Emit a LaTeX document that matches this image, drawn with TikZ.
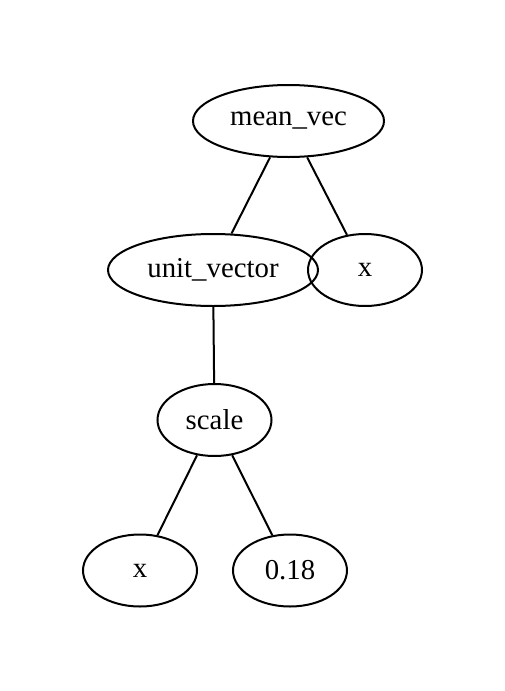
\documentclass[tikz,border=0pt]{standalone}
\usepackage{fontspec}
\setmainfont{Liberation Serif}
\usetikzlibrary{shapes.geometric}
\tikzset{
  tnode/.style={ellipse, draw=black, line width=1pt, inner sep=0pt,
    minimum height=36pt, minimum width=57pt,
    font=\fontsize{14.4}{17}\selectfont},
  twide/.style={tnode, minimum width=95.5pt},
  tlong/.style={tnode, minimum width=105pt},
  tedge/.style={line width=1pt, draw=black},
}
\begin{document}
\begin{tikzpicture}[x=0.5pt,y=-0.5pt]
\useasboundingbox (0,0) rectangle (504,691);
\node[twide] (mv) at (288.5,121) {mean\_vec};
\node[tlong] (uv) at (213,270) {unit\_vector};
\node[tnode] (xa) at (365,270) {x};
\node[tnode] (sc) at (214.5,420) {scale};
\node[tnode] (xb) at (140,570.5) {x};
\node[tnode] (cst) at (290,570.5) {0.18};
\draw[tedge] (mv) -- (uv);
\draw[tedge] (mv) -- (xa);
\draw[tedge] (uv) -- (sc);
\draw[tedge] (sc) -- (xb);
\draw[tedge] (sc) -- (cst);
\end{tikzpicture}
\end{document}
